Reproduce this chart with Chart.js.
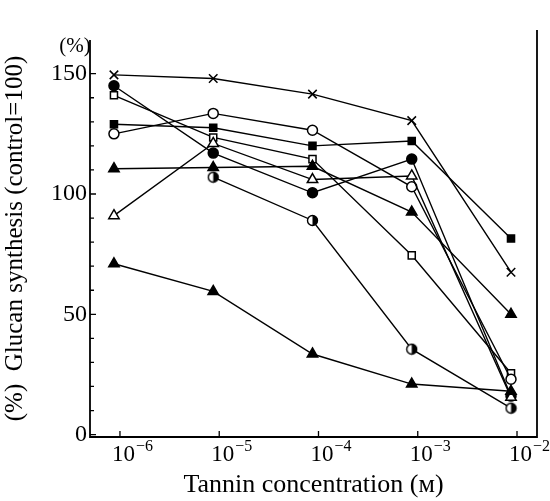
<!DOCTYPE html>
<html>
<head>
<meta charset="utf-8">
<script src="https://cdn.jsdelivr.net/npm/chart.js@4.4.0/dist/chart.umd.min.js"></script>
<style>
html,body{margin:0;padding:0;background:#fff}
</style>
</head>
<body>
<canvas id="myChart" width="550" height="501"></canvas>
<script>
// tannin concentrations (M) where points were measured
const conc = [8.7e-7, 8.7e-6, 8.7e-5, 8.7e-4, 8.7e-3];
const xTicks = [1e-6, 1e-5, 1e-4, 1e-3, 1e-2];
const xTickExp = ['−6', '−5', '−4', '−3', '−2'];
const yTicks = [0, 10, 20, 30, 40, 50, 60, 70, 80, 90, 100, 110, 120, 130, 140, 150];

// glucan synthesis (% of control), one list per marker
const crossVals = [149.5, 148, 141.5, 130.5, 67.5];
const dotVals = [145, 117, 100.5, 114.5, 16];
const openSquareVals = [141, 123.5, 114.5, 74.5, 25.5];
const squareVals = [129, 127.5, 120, 122, 81.5];
const openCircleVals = [125, 133.5, 126.5, 103, 23];
const triangleVals = [110.5, 111, 111.5, 92.5, 50];
const openTriangleVals = [91, 121, 106, 107.5, 15.5];
const halfCircleVals = [null, 107, 89, 35.5, 11];
const lowTriangleVals = [71, 59.5, 33.5, 21, 18];

const FONT = "'Liberation Serif', 'DejaVu Serif', serif";

// half filled circle marker
const half = document.createElement('canvas');
half.width = 13; half.height = 13;
(function(){
    const c = half.getContext('2d');
    c.fillStyle = '#fff';
    c.beginPath(); c.arc(6.5, 6.5, 5, 0, Math.PI*2); c.fill();
    c.fillStyle = '#000';
    c.beginPath(); c.arc(6.5, 6.5, 5, -Math.PI/2, Math.PI/2); c.closePath(); c.fill();
    c.strokeStyle = '#000'; c.lineWidth = 1.4;
    c.beginPath(); c.arc(6.5, 6.5, 5, 0, Math.PI*2); c.stroke();
})();

const pts = vals => vals.map((v,i) => ({x: conc[i], y: v}));

const mk = (vals, style, fill, r) => ({
    data: pts(vals),
    borderColor: '#000',
    borderWidth: 1.4,
    pointStyle: style,
    pointRadius: r || 5,
    pointBorderWidth: 1.5,
    pointBorderColor: '#000',
    pointBackgroundColor: fill,
    spanGaps: true,
    tension: 0
});

const frame = {
    id: 'frame',
    beforeDatasetsDraw(chart){
        const {ctx, chartArea:a, scales:{x,y}} = chart;
        ctx.save();
        ctx.strokeStyle = '#000';
        ctx.lineWidth = 1.8;
        ctx.beginPath();
        ctx.moveTo(a.left, a.top);
        ctx.lineTo(a.left, a.bottom);
        ctx.lineTo(a.right, a.bottom);
        ctx.lineTo(a.right, a.top - 10);
        ctx.stroke();
        ctx.lineWidth = 1.3;
        ctx.beginPath();
        yTicks.forEach(v => {
            const py = y.getPixelForValue(v);
            ctx.moveTo(a.left, py); ctx.lineTo(a.left + (v % 50 === 0 ? 6 : 4), py);
        });
        xTicks.forEach(v => {
            const px = x.getPixelForValue(v);
            ctx.moveTo(px, a.bottom); ctx.lineTo(px, a.bottom - 6);
        });
        ctx.stroke();
        // x tick labels as 10 with raised exponent
        ctx.fillStyle = '#000';
        ctx.textAlign = 'left';
        ctx.textBaseline = 'alphabetic';
        xTicks.forEach((v, i) => {
            const px = x.getPixelForValue(v) - 8;
            ctx.font = '23px ' + FONT;
            ctx.fillText('10', px, a.bottom + 24);
            const w = ctx.measureText('10').width;
            ctx.font = '16px ' + FONT;
            ctx.fillText(xTickExp[i], px + w + 1, a.bottom + 14);
        });
        ctx.font = '21px ' + FONT;
        ctx.textAlign = 'center';
        ctx.textBaseline = 'middle';
        ctx.fillText('(%)', 75, 46);
        ctx.restore();
    }
};

new Chart(document.getElementById('myChart'), {
    type: 'line',
    data: {
        datasets: [
            mk(lowTriangleVals, 'triangle', '#000', 6),
            mk(halfCircleVals, half, '#000'),
            mk(openTriangleVals, 'triangle', '#fff', 6),
            mk(triangleVals, 'triangle', '#000', 6),
            mk(openCircleVals, 'circle', '#fff'),
            mk(squareVals, 'rect', '#000'),
            mk(openSquareVals, 'rect', '#fff'),
            mk(dotVals, 'circle', '#000'),
            mk(crossVals, 'crossRot', '#000', 6)
        ]
    },
    options: {
        responsive: false,
        devicePixelRatio: 1,
        animation: false,
        layout: {padding: {left: 0, right: 13, top: 40, bottom: 0}},
        plugins: {legend: {display: false}, tooltip: {enabled: false}},
        scales: {
            x: {
                type: 'logarithmic',
                min: 4.99e-7,
                max: 0.0159,
                afterBuildTicks: s => { s.ticks = xTicks.map(v => ({value: v})); },
                afterFit: s => { s.height = 64; },
                grid: {display: false, drawTicks: false},
                border: {display: false},
                ticks: {display: false},
                title: {
                    display: true,
                    text: 'Tannin concentration (ᴍ)',
                    color: '#000',
                    font: {family: FONT, size: 26},
                    padding: {top: 2, bottom: 0}
                }
            },
            y: {
                min: -1,
                max: 164,
                afterBuildTicks: s => { s.ticks = yTicks.map(v => ({value: v})); },
                afterFit: s => { s.width = 90; },
                grid: {display: false, drawTicks: false},
                border: {display: false},
                ticks: {
                    color: '#000',
                    font: {family: FONT, size: 24},
                    padding: 3,
                    autoSkip: false,
                    callback: v => (v % 50 === 0 ? v : '')
                },
                title: {
                    display: true,
                    text: '(%)  Glucan synthesis (control=100)',
                    color: '#000',
                    font: {family: FONT, size: 25},
                    padding: {top: 0, bottom: 0}
                }
            }
        }
    },
    plugins: [frame]
});
</script>
</body>
</html>
